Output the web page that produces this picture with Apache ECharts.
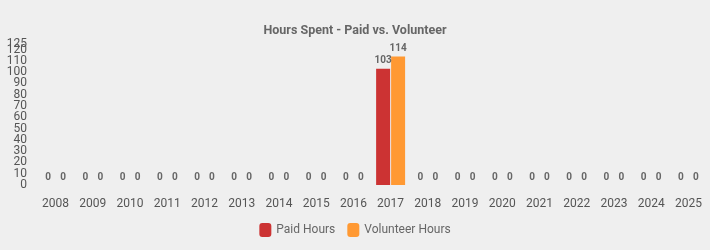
<!DOCTYPE html>
<html><head><meta charset="utf-8">
<script src="https://cdn.jsdelivr.net/npm/echarts@6/dist/echarts.min.js"></script>
<style>html,body{margin:0;padding:0;background:#efefef}#c{width:710px;height:250px}</style>
</head><body><div id="c"></div>
<script>
const categories = ['2008','2009','2010','2011','2012','2013','2014','2015','2016','2017','2018','2019','2020','2021','2022','2023','2024','2025'];
const paidHours = [0,0,0,0,0,0,0,0,0,103,0,0,0,0,0,0,0,0];
const volunteerHours = [0,0,0,0,0,0,0,0,0,114,0,0,0,0,0,0,0,0];
const yMin = 0, yMax = 125, yStep = 10;
const chart = echarts.init(document.getElementById('c'), null, {renderer:'canvas'});
const lbl = {show:true, position:'top', distance:3, color:'#666', fontSize:10, fontWeight:'bold', fontFamily:'Roboto'};
const yLabelBase = {color:'#555', fontSize:12, margin:10, fontFamily:'Roboto'};
chart.setOption({
  backgroundColor:'#efefef',
  animation:false,
  title:{text:'Hours Spent - Paid vs. Volunteer', left:'center', top:19, textStyle:{fontSize:12.5, fontWeight:'bold', color:'#666', fontFamily:'Roboto'}},
  legend:{bottom:8, left:'center', itemWidth:12, itemHeight:14, itemGap:12, textStyle:{fontSize:12, color:'#666', fontFamily:'Roboto'}, data:['Paid Hours','Volunteer Hours']},
  grid:{left:37, right:3, top:44, bottom:65, containLabel:false},
  xAxis:{type:'category', data:categories, axisLine:{show:false}, axisTick:{show:false}, axisLabel:{color:'#555', fontSize:12, margin:13, fontFamily:'Roboto'}},
  yAxis:[
    {type:'value', position:'left', min:yMin, max:yMax, interval:yStep, splitLine:{show:false}, axisLine:{show:false}, axisTick:{show:false}, axisLabel:Object.assign({showMaxLabel:true, showMinLabel:true}, yLabelBase)},
    {type:'value', position:'left', offset:0, min:yMin, max:yMax, interval:yStep, splitLine:{show:false}, axisLine:{show:false}, axisTick:{show:false}, axisLabel:Object.assign({showMaxLabel:false, showMinLabel:false, formatter:v => (v===10||v===120) ? String(v) : ''}, yLabelBase)}
  ],
  series:[
    {name:'Paid Hours', type:'bar', data:paidHours, itemStyle:{color:'#cc3333'}, barWidth:14, barGap:'7%', label:lbl},
    {name:'Volunteer Hours', type:'bar', data:volunteerHours, itemStyle:{color:'#ff9933'}, barWidth:14, barGap:'7%', label:lbl}
  ]
});
</script></body></html>
